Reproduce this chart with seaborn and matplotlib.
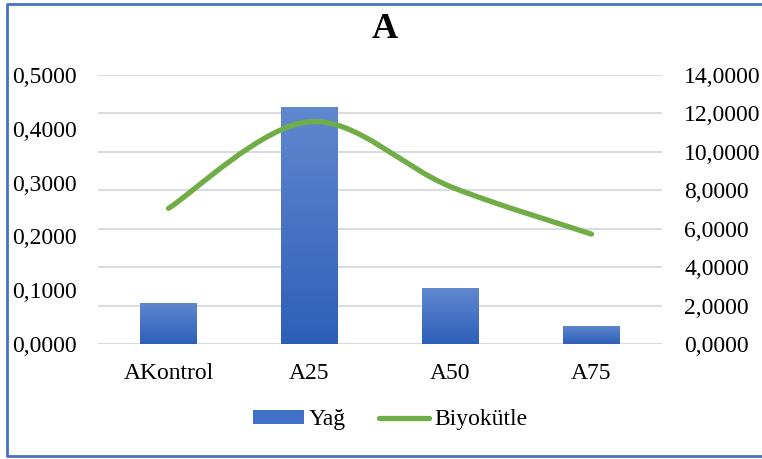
import numpy as np
import pandas as pd
import matplotlib
matplotlib.use("Agg")
import matplotlib.pyplot as plt
import seaborn as sns
from matplotlib.path import Path
from matplotlib.patches import PathPatch, Patch
from matplotlib.lines import Line2D
from matplotlib.ticker import FuncFormatter, FixedLocator

categories = ["AKontrol", "A25", "A50", "A75"]
yag = [0.0765, 0.4405, 0.1040, 0.0335]
biyokutle = [7.06, 11.57, 8.19, 5.72]

BLUE_TOP = "#6088CF"
BLUE_BOTTOM = "#2E5FB8"
GREEN = "#70AD47"
FS = 17

sns.set_theme(style="white")
plt.rcParams["font.family"] = ["Liberation Serif", "DejaVu Serif"]
plt.rcParams["text.color"] = "black"
plt.rcParams["xtick.color"] = "black"
plt.rcParams["ytick.color"] = "black"


def comma_fmt(v, pos):
    return f"{v:.4f}".replace(".", ",")


def smooth_path(xs, ys):
    # Excel-style smoothed line: Catmull-Rom segments written as cubic Beziers
    pts = np.column_stack([xs, ys]).astype(float)
    n = len(pts)
    verts = [pts[0]]
    codes = [Path.MOVETO]
    for i in range(n - 1):
        p0 = pts[i - 1] if i > 0 else pts[i]
        p3 = pts[i + 2] if i + 2 < n else pts[i + 1]
        c1 = pts[i] + (pts[i + 1] - p0) / 6
        c2 = pts[i + 1] - (p3 - pts[i]) / 6
        verts += [c1, c2, pts[i + 1]]
        codes += [Path.CURVE4] * 3
    return Path(verts, codes)


def main():
    df = pd.DataFrame({"kategori": categories, "yag": yag, "biyokutle": biyokutle})

    fig = plt.figure(figsize=(7.62, 4.59), dpi=100)
    ax = fig.add_axes([98 / 762, 1 - 344 / 459, 564 / 762, 269 / 459])

    sns.barplot(data=df, x="kategori", y="yag", width=0.4, color=BLUE_BOTTOM, ax=ax, zorder=2)

    # vertical gradient on each bar
    grad = np.linspace(0, 1, 256).reshape(-1, 1)
    cmap = matplotlib.colors.LinearSegmentedColormap.from_list("bar", [BLUE_BOTTOM, BLUE_TOP])
    for p in list(ax.patches):
        x0, y0 = p.get_x(), p.get_y()
        w, h = p.get_width(), p.get_height()
        im = ax.imshow(grad, extent=[x0, x0 + w, y0, y0 + h], origin="lower",
                       aspect="auto", cmap=cmap, zorder=2)
        im.set_clip_path(p)
        p.set_facecolor("none")
        p.set_edgecolor("none")

    ax.set_xlim(-0.5, 3.5)
    ax.set_ylim(0, 0.5)
    ax.set_yticks(np.arange(0, 0.51, 0.1))
    ax.yaxis.set_major_formatter(FuncFormatter(comma_fmt))
    # gridlines follow the right axis (every 2 units of 14)
    ax.yaxis.set_minor_locator(FixedLocator(np.arange(8) * 0.5 / 7))
    ax.yaxis.remove_overlapping_locs = False
    ax.grid(False)
    ax.grid(True, which="minor", axis="y", color="#D9DCE1", linewidth=1.5, zorder=0)
    ax.set_axisbelow(True)
    ax.set_xlabel("")
    ax.set_ylabel("")
    ax.tick_params(axis="y", which="both", length=0, pad=15, labelsize=FS)
    ax.tick_params(axis="x", length=0, pad=14, labelsize=FS)
    for s in ax.spines.values():
        s.set_visible(False)

    ax2 = ax.twinx()
    ax2.set_ylim(0, 14)
    ax2.set_yticks(np.arange(0, 14.1, 2))
    ax2.yaxis.set_major_formatter(FuncFormatter(comma_fmt))
    ax2.tick_params(axis="y", length=0, pad=16, labelsize=FS)
    ax2.grid(False)
    for s in ax2.spines.values():
        s.set_visible(False)

    xs = np.arange(len(categories))
    line = PathPatch(smooth_path(xs, biyokutle), fill=False, edgecolor=GREEN,
                     linewidth=3.8, capstyle="round", joinstyle="round",
                     transform=ax2.transData)
    ax2.add_patch(line)
    ax2.set_xlim(-0.5, 3.5)

    fig.text(0.505, 1 - 30 / 459, "A", ha="center", va="center",
             fontsize=26, fontweight="bold")

    handles = [Patch(facecolor="#4070C8", edgecolor="none"),
               Line2D([0], [0], color=GREEN, linewidth=3.8, solid_capstyle="round")]
    fig.legend(handles, ["Yağ", "Biyokütle"], loc="center", ncol=2,
               bbox_to_anchor=(390 / 762, 1 - 420 / 459), frameon=False,
               fontsize=FS, handlelength=2.15, handleheight=0.55,
               handletextpad=0.2, columnspacing=1.4)

    # chart-area border (right edge is cropped off in the original)
    l, r, b, t = 7 / 762, 1.0, 1 - 456 / 459, 1 - 4 / 459
    fig.add_artist(Line2D([r, l, l, r], [t, t, b, b], transform=fig.transFigure,
                          color="#4472C4", linewidth=2))

    fig.savefig("out.png", dpi=100)


if __name__ == "__main__":
    main()
